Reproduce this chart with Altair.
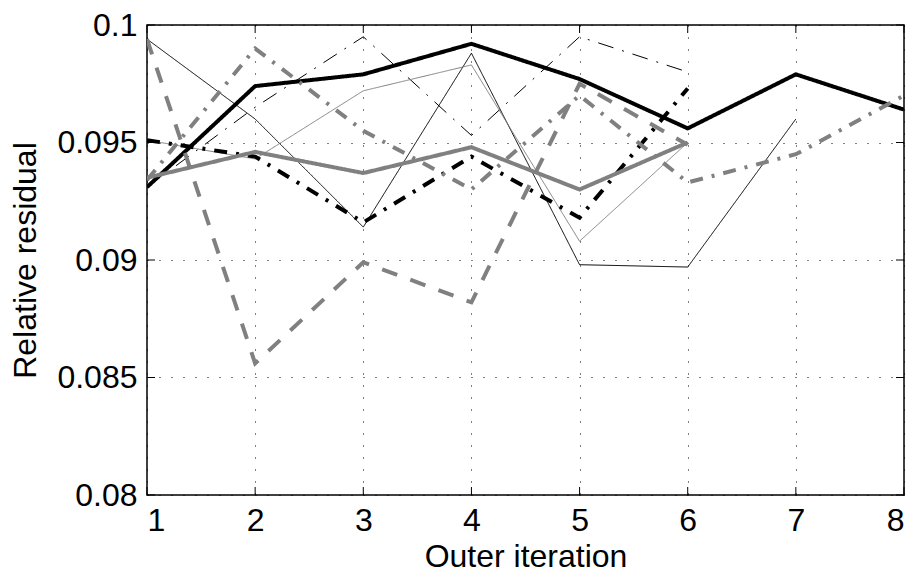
import altair as alt
import pandas as pd

# ---- data ----
iters = [1, 2, 3, 4, 5, 6, 7, 8]
thick_black_solid = [0.0931, 0.0974, 0.0979, 0.0992, 0.0977, 0.0956, 0.0979, 0.0964]
thin_black_solid = [0.0994, 0.0960, 0.0914, 0.0988, 0.0898, 0.0897, 0.0960]
thin_gray_solid = [0.0951, 0.0943, 0.0972, 0.0983, 0.0908, 0.0950]
thick_gray_solid = [0.0935, 0.0946, 0.0937, 0.0948, 0.0930, 0.0950]
thin_black_dashdot = [0.0931, 0.0965, 0.0995, 0.0953, 0.0995, 0.0980]
thick_black_dashdot = [0.0951, 0.0944, 0.0916, 0.0944, 0.0918, 0.0973]
gray_dashed = [0.0994, 0.0856, 0.0899, 0.0882, 0.0975, 0.0949]
gray_dashdot = [0.0934, 0.0990, 0.0955, 0.0930, 0.0970, 0.0933, 0.0945, 0.0970]

x_ticks = [1, 2, 3, 4, 5, 6, 7, 8]
y_ticks = [0.08, 0.085, 0.09, 0.095, 0.1]

W, H = 757, 470
FONT = "Liberation Sans"
FS = 32
GRAY = "#808080"

# (name, values, color, width, dash)
series = [
    ("thin_black_dashdot", thin_black_dashdot, "black", 1, [16, 9, 2, 9]),
    ("thin_black_solid", thin_black_solid, "black", 1, [1, 0]),
    ("thin_gray_solid", thin_gray_solid, GRAY, 1, [1, 0]),
    ("thick_black_dashdot", thick_black_dashdot, "black", 4, [13, 9, 3, 9]),
    ("thick_black_solid", thick_black_solid, "black", 4, [1, 0]),
    ("gray_dashed", gray_dashed, GRAY, 4, [16, 14]),
    ("gray_dashdot", gray_dashdot, GRAY, 4, [13, 9, 3, 9]),
    ("thick_gray_solid", thick_gray_solid, GRAY, 4, [1, 0]),
]

xscale = alt.Scale(domain=[1, 8], nice=False, zero=False)
yscale = alt.Scale(domain=[0.08, 0.1], nice=False, zero=False)


def xaxis():
    return alt.Axis(values=x_ticks, format="d", title="Outer iteration", ticks=False,
                    domain=False, grid=True, labelPadding=10,
                    titleY=61, titleBaseline="middle")


def yaxis():
    return alt.Axis(values=y_ticks, format="~g", title="Relative residual", ticks=False,
                    domain=False, grid=True, labelPadding=10, titlePadding=14)


layers = []
for name, vals, color, width, dash in series:
    df = pd.DataFrame({"iter": iters[: len(vals)], "val": vals})
    line = alt.Chart(df).mark_line(
        color=color, strokeWidth=width, strokeDash=dash, strokeCap="butt",
        strokeJoin="miter", clip=True,
    ).encode(
        x=alt.X("iter:Q", scale=xscale, axis=xaxis()),
        y=alt.Y("val:Q", scale=yscale, axis=yaxis()),
    )
    layers.append(line)

# inward tick marks (MATLAB style) on all four sides
TL = 8
xt = pd.DataFrame({"iter": x_ticks})
yt = pd.DataFrame({"val": y_ticks})
tick_style = dict(color="black", strokeWidth=1)
layers += [
    alt.Chart(xt).mark_rule(**tick_style).encode(
        x=alt.X("iter:Q", scale=xscale, axis=xaxis()), y=alt.value(H - TL), y2=alt.value(H)),
    alt.Chart(xt).mark_rule(**tick_style).encode(
        x=alt.X("iter:Q", scale=xscale, axis=xaxis()), y=alt.value(0), y2=alt.value(TL)),
    alt.Chart(yt).mark_rule(**tick_style).encode(
        y=alt.Y("val:Q", scale=yscale, axis=yaxis()), x=alt.value(0), x2=alt.value(TL)),
    alt.Chart(yt).mark_rule(**tick_style).encode(
        y=alt.Y("val:Q", scale=yscale, axis=yaxis()), x=alt.value(W - TL), x2=alt.value(W)),
]

chart = alt.layer(*layers).properties(
    width=W, height=H,
    autosize=alt.AutoSizeParams(type="none"),
    padding={"left": 147, "top": 25, "right": 12, "bottom": 77},
    background="white",
).configure_view(
    stroke="black", strokeWidth=1.5,
).configure_axis(
    labelFont=FONT, labelFontSize=FS, labelColor="black",
    titleFont=FONT, titleFontSize=FS, titleColor="black", titleFontWeight="normal",
    gridColor="black", gridDash=[1, 11], gridWidth=1, gridOpacity=1,
)

chart.save("out.html", embed_options={"renderer": "svg", "actions": False})
